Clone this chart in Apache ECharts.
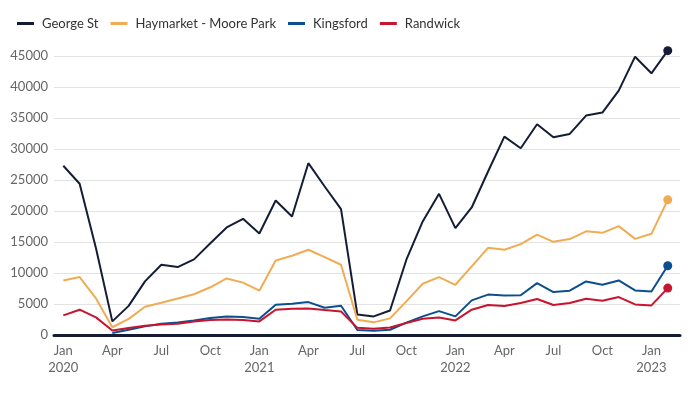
<!DOCTYPE html>
<html>
<head>
<meta charset="utf-8">
<script src="https://cdn.jsdelivr.net/npm/echarts@6/dist/echarts.min.js"></script>
<style>
html,body{margin:0;padding:0;background:#fff;}
#chart{width:700px;height:394px;}
</style>
</head>
<body>
<div id="chart"></div>
<script>
// Months Jan 2020 .. Feb 2023
const months = ['Jan 2020','Feb 2020','Mar 2020','Apr 2020','May 2020','Jun 2020','Jul 2020','Aug 2020','Sep 2020','Oct 2020','Nov 2020','Dec 2020',
  'Jan 2021','Feb 2021','Mar 2021','Apr 2021','May 2021','Jun 2021','Jul 2021','Aug 2021','Sep 2021','Oct 2021','Nov 2021','Dec 2021',
  'Jan 2022','Feb 2022','Mar 2022','Apr 2022','May 2022','Jun 2022','Jul 2022','Aug 2022','Sep 2022','Oct 2022','Nov 2022','Dec 2022',
  'Jan 2023','Feb 2023'];
const seriesNames = ['George St','Haymarket - Moore Park','Kingsford','Randwick'];
const georgeSt = [27300,24400,14000,2200,4700,8650,11330,10950,12200,14800,17350,18740,
  16380,21700,19120,27710,23950,20300,3300,3000,3950,12140,18310,22770,
  17240,20570,26370,32000,30130,33990,31900,32430,35390,35870,39420,44890,
  42210,45860];
const haymarket = [8800,9340,5900,1250,2600,4560,5200,5880,6570,7700,9120,8450,
  7150,12030,12780,13750,12570,11330,2450,2040,2680,5420,8270,9340,
  8100,11060,14060,13750,14650,16190,15030,15470,16720,16480,17560,15510,
  16320,21800];
const kingsford = [null,null,null,320,850,1390,1820,2030,2350,2740,3000,2900,
  2620,4880,5040,5310,4400,4720,800,700,850,2000,3000,3850,
  3000,5580,6520,6380,6400,8370,6930,7140,8640,8100,8800,7190,
  7030,11170];
const randwick = [3160,4080,2840,740,1130,1500,1710,1820,2190,2410,2510,2400,
  2190,4080,4240,4290,4030,3800,1150,1000,1200,1930,2630,2840,
  2350,4080,4830,4670,5150,5800,4830,5150,5850,5530,6120,4930,
  4770,7570];
const yTicks = [0,5000,10000,15000,20000,25000,30000,35000,40000,45000];
const xTickIdx = [0,3,6,9,12,15,18,21,24,27,30,33,36];
const colors = ['#151c36','#f0ac52','#0b4f8f','#c8142f'];

const allData = [georgeSt, haymarket, kingsford, randwick];
const chart = echarts.init(document.getElementById('chart'), null, {renderer:'canvas'});
const FONT = 'Lato';

function toPairs(arr){ return arr.map((v,i)=>[i,v]); }

chart.setOption({
  animation:false,
  textStyle:{fontFamily:FONT},
  legend:{
    left:12, top:12, itemWidth:17, itemHeight:3, itemGap:12,
    icon:'rect',
    textStyle:{fontFamily:FONT,fontSize:13,color:'#333',padding:[0,0,0,3]},
    data: seriesNames
  },
  grid:{left:54, right:20, top:56, bottom:59, containLabel:false},
  xAxis:{
    type:'value', min:-0.57, max:37.75,
    splitLine:{show:false},
    axisLine:{show:true,lineStyle:{color:'#151c36',width:3}},
    axisTick:{show:false},
    axisLabel:{
      customValues: xTickIdx,
      color:'#666', fontFamily:FONT, fontSize:13, lineHeight:17, margin:7,
      formatter:function(v){
        const i = Math.round(v);
        const m = months[i]; if(!m) return '';
        const parts = m.split(' ');
        return parts[0]==='Jan' ? parts[0]+'\n'+parts[1] : parts[0];
      }
    }
  },
  yAxis:{
    type:'value', min:0, max:45000, interval:5000,
    axisLine:{show:false}, axisTick:{show:false},
    splitLine:{lineStyle:{color:'#e3e3e3',width:1}},
    axisLabel:{color:'#666',fontFamily:FONT,fontSize:13,margin:6,
      customValues: yTicks,
      formatter:function(v){ return String(v); }}
  },
  series: seriesNames.map((name,k)=>({
    name:name, type:'line', data: toPairs(allData[k]),
    clip:false, connectNulls:false,
    showSymbol:true,
    symbol:'circle',
    symbolSize:function(val, p){ return p.dataIndex===37 ? 9 : 0; },
    itemStyle:{color:colors[k]},
    lineStyle:{color:colors[k], width:2},
    z: 2+k
  }))
});
</script>
</body>
</html>
